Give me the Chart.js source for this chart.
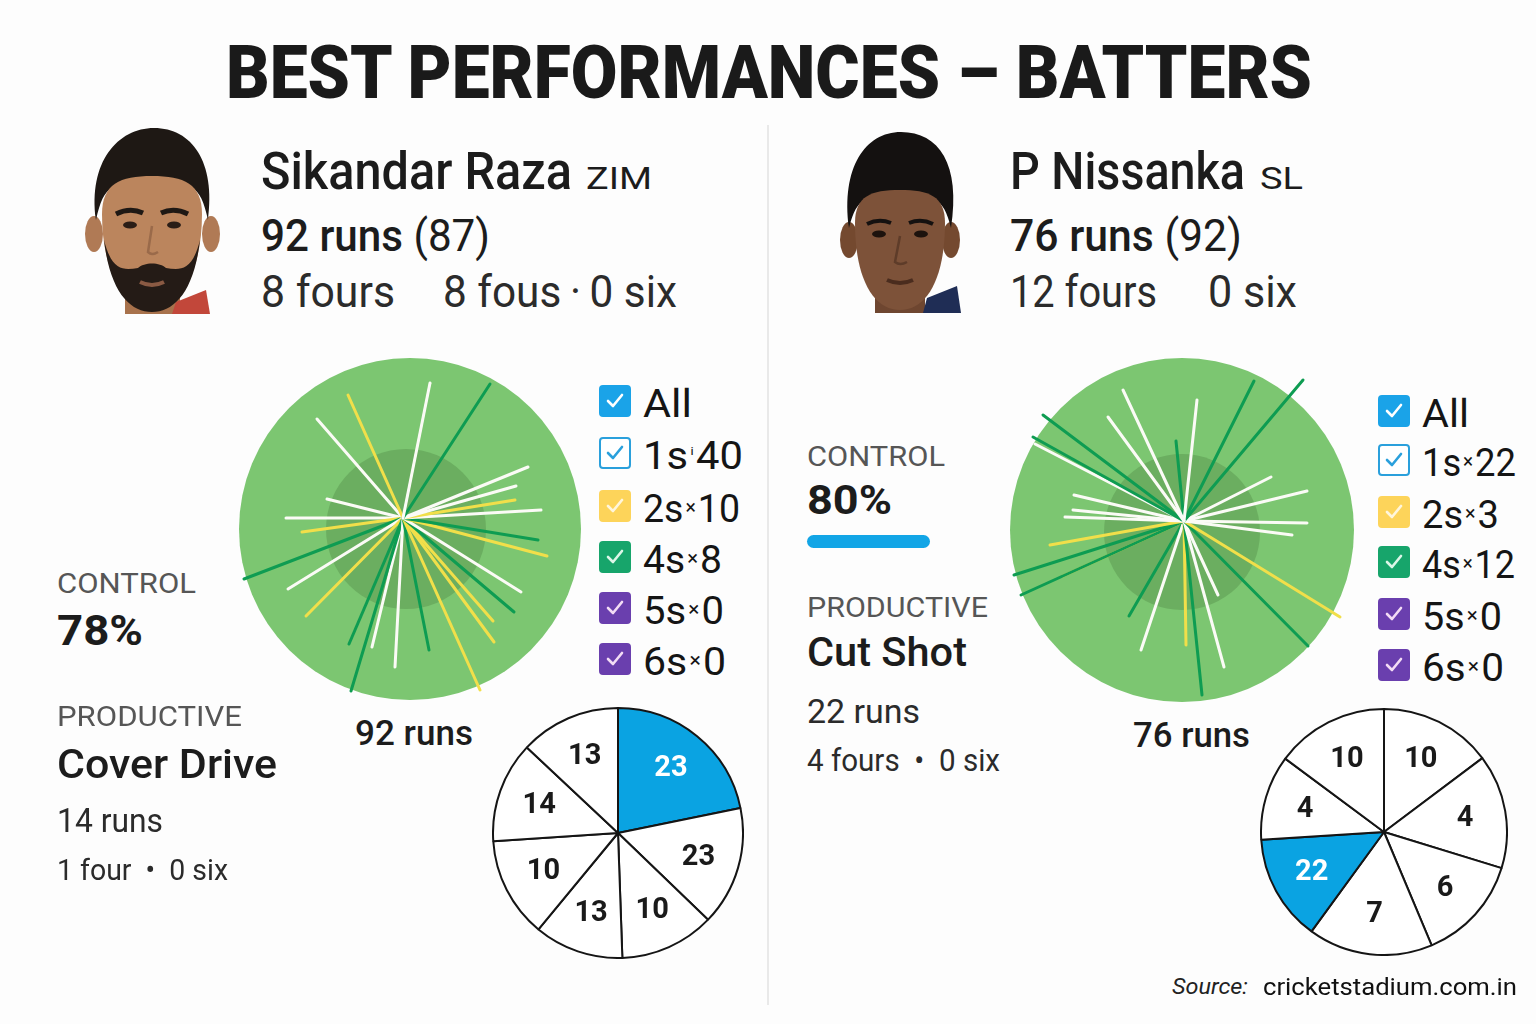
<!DOCTYPE html>
<html>
<head>
<meta charset="utf-8">
<script src="https://cdn.jsdelivr.net/npm/chart.js@4.4.1/dist/chart.umd.min.js"></script>
<style>
html, body { margin: 0; padding: 0; background: #fdfdfd; }
#page { position: relative; width: 1536px; height: 1024px; overflow: hidden; font-family: Roboto, 'Noto Sans', sans-serif; color: #1c1c1c; }
.t { position: absolute; line-height: 1; white-space: nowrap; transform-origin: 0 0; }
.box { position: absolute; width: 32px; height: 32px; border-radius: 4px; box-sizing: border-box; }
.x { font-size: 0.52em; position: relative; top: -0.42em; padding: 0 2px; }
canvas { position: absolute; }
</style>
</head>
<body>
<div id="page">
  <div style="position:absolute;left:767px;top:125px;width:2px;height:880px;background:#e9e9e9"></div>

  <!-- simple portrait placeholders -->
  <svg style="position:absolute;left:80px;top:122px" width="145" height="192" viewBox="0 0 145 192">
    <rect x="45" y="140" width="55" height="52" fill="#a8724c"/>
    <path d="M96 180 L126 168 L130 192 L92 192Z" fill="#c2473a"/>
    <ellipse cx="14" cy="112" rx="9" ry="18" fill="#b07a55"/>
    <ellipse cx="131" cy="112" rx="9" ry="18" fill="#b07a55"/>
    <path d="M16 98 C8 40 38 6 74 6 C112 6 136 40 128 98 C124 80 120 70 112 66 C90 58 54 58 32 66 C24 70 20 80 16 98 Z" fill="#1e1814"/>
    <path d="M22 92 C22 62 40 54 72 54 C104 54 122 62 122 92 C122 150 100 186 72 186 C44 186 22 150 22 92Z" fill="#bb855d"/>
    <path d="M24 118 C30 170 50 190 72 190 C94 190 114 170 120 118 C112 150 100 148 86 146 C80 140 64 140 58 146 C44 148 32 150 24 118Z" fill="#241b16"/>
    <path d="M60 160 Q72 166 84 160" stroke="#8a5a43" stroke-width="4" fill="none"/>
    <path d="M36 92 Q50 85 63 91" stroke="#1e1814" stroke-width="5" fill="none"/>
    <path d="M81 91 Q94 85 108 92" stroke="#1e1814" stroke-width="5" fill="none"/>
    <ellipse cx="50" cy="103" rx="7" ry="3.5" fill="#2a1d16"/>
    <ellipse cx="94" cy="103" rx="7" ry="3.5" fill="#2a1d16"/>
    <path d="M72 104 L68 130 Q72 134 78 130" stroke="#9a6a4a" stroke-width="2.5" fill="none"/>
  </svg>
  <svg style="position:absolute;left:835px;top:128px" width="130" height="185" viewBox="0 0 130 185">
    <rect x="40" y="140" width="50" height="45" fill="#6e4630"/>
    <path d="M92 170 L122 158 L126 185 L88 185Z" fill="#1f2d55"/>
    <ellipse cx="14" cy="112" rx="9" ry="18" fill="#74492f"/>
    <ellipse cx="116" cy="112" rx="9" ry="18" fill="#74492f"/>
    <path d="M14 100 C6 40 30 4 66 4 C104 4 126 36 116 100 C112 84 108 76 100 72 C80 64 50 64 30 72 C22 76 18 84 14 100 Z" fill="#141110"/>
    <path d="M20 95 C20 68 36 62 65 62 C94 62 110 68 110 95 C110 150 92 182 65 182 C38 182 20 150 20 95Z" fill="#7d5239"/>
    <path d="M32 96 Q44 90 56 95" stroke="#141110" stroke-width="4" fill="none"/>
    <path d="M74 95 Q86 90 98 96" stroke="#141110" stroke-width="4" fill="none"/>
    <ellipse cx="44" cy="106" rx="7" ry="3.5" fill="#1c120d"/>
    <ellipse cx="86" cy="106" rx="7" ry="3.5" fill="#1c120d"/>
    <path d="M65 108 L60 134 Q65 138 72 134" stroke="#5e3c29" stroke-width="2.5" fill="none"/>
    <path d="M52 152 Q65 158 78 152" stroke="#4a2c1e" stroke-width="4" fill="none"/>
  </svg>

  <canvas id="razaWheel" width="380" height="380" style="left:213px;top:328px"></canvas>
  <canvas id="nissankaWheel" width="380" height="380" style="left:994px;top:331px"></canvas>
  <canvas id="razaZones" width="252" height="252" style="left:492px;top:707px"></canvas>
  <canvas id="nissankaZones" width="248" height="248" style="left:1260px;top:708px"></canvas>
</div>
<script>
// ---- data read off the graphic ----
// wagon wheel: where each scoring shot landed, relative to the batter (y up)
const razaShotX = [27, 87, -55, -86, 125, 113, 112, 138, 135, 144, 118, 111, 90, 91, 77, 26, -8, -52, -31, -54, -97, -115, -159, -101, -117, -76];
const razaShotY = [135, 134, 123, 99, 51, 32, 18, 8, -22, -38, -74, -94, -103, -124, -172, -132, -149, -173, -129, -126, -98, -71, -61, -14, 0, 19];
const razaShotKind = ['1s', '4s', '2s', '1s', '1s', '1s', '2s', '1s', '4s', '2s', '1s', '4s', '2s', '2s', '2s', '4s', '1s', '4s', '1s', '4s', '2s', '1s', '4s', '2s', '1s', '1s'];

const nissankaShotX = [-61, -76, 13, -8, 70, 119, -141, -151, -149, -110, -111, -119, -134, -170, -163, -121, 87, 123, 123, 108, 156, 124, 34, 40, 18, 2, -43, -55];
const nissankaShotY = [131, 104, 121, 80, 140, 141, 106, 84, 77, 26, 11, 4, -24, -54, -74, -55, 44, 30, -2, -14, -96, -125, -74, -146, -174, -124, -129, -95];
const nissankaShotKind = ['1s', '1s', '1s', '4s', '4s', '4s', '4s', '4s', '1s', '1s', '1s', '1s', '2s', '4s', '4s', '2s', '1s', '1s', '1s', '1s', '2s', '4s', '1s', '1s', '4s', '2s', '1s', '4s'];

// legend rows
const legendLabels = ['All', '1s', '2s', '4s', '5s', '6s'];
const razaCounts = [null, 40, 10, 8, 0, 0];
const nissankaCounts = [null, 22, 3, 12, 0, 0];

// scoring zones: runs per zone and the width of each zone (degrees, clockwise from straight)
const razaZoneRuns = [23, 23, 10, 13, 10, 14, 13];
const razaZoneSpan = [78.5, 55.4, 44.1, 41.5, 46.7, 47, 46.8];
const razaTopZone = 0;
const nissankaZoneRuns = [10, 4, 6, 7, 22, 4, 10];
const nissankaZoneSpan = [53.1, 54, 50.1, 58.9, 50.3, 40.2, 53.4];
const nissankaTopZone = 4;

const shotColors = { '1s': '#fbfbf6', '2s': '#f1df4a', '4s': '#0e9c52' };

// ---- text helpers ----
const page = document.getElementById('page');

function txt(x, baseline, size, weight, color, html, width, extra) {
    const el = document.createElement('div');
    el.className = 't';
    el.style.left = x + 'px';
    el.style.top = (baseline - 0.842 * size) + 'px';
    el.style.fontSize = size + 'px';
    el.style.fontWeight = weight;
    el.style.color = color;
    if (extra) Object.assign(el.style, extra);
    el.innerHTML = html;
    page.appendChild(el);
    if (width) {
        const w = el.getBoundingClientRect().width;
        if (w > 0) el.style.transform = 'scaleX(' + (width / w) + ')';
    }
    return el;
}

const INK = '#1c1c1c';
const SOFT = '#2b2b2b';
const LABEL = '#565656';

txt(226, 98, 74, 900, '#1a1a1a', 'BEST PERFORMANCES – BATTERS', 1086);

// left player
txt(261, 189, 51, 500, INK, 'Sikandar Raza', 311);
txt(586, 189, 32, 400, INK, 'ZIM', 66);
txt(261, 251, 44, 500, INK, '92 runs <span style="font-weight:400">(87)</span>', 229);
txt(261, 307, 44, 400, SOFT, '8 fours', 134);
txt(443, 307, 44, 400, SOFT, '8 fous&thinsp;·&thinsp;0 six', 234);
txt(57, 594, 28, 400, LABEL, 'CONTROL', 139);
txt(57, 645, 42, 700, INK, '78%', 86);
txt(57, 727, 28, 400, LABEL, 'PRODUCTIVE', 185);
txt(57, 779, 41, 500, INK, 'Cover Drive', 220);
txt(57, 832, 33, 400, SOFT, '14 runs', 106);
txt(57, 880, 30, 400, SOFT, '1 four &nbsp;•&nbsp; 0 six', 171);
txt(355, 745, 35, 500, INK, '92 runs', 118);

// right player
txt(1010, 189, 51, 500, INK, 'P Nissanka', 235);
txt(1260, 189, 32, 400, INK, 'SL', 43);
txt(1010, 251, 44, 500, INK, '76 runs <span style="font-weight:400">(92)</span>', 232);
txt(1010, 307, 44, 400, SOFT, '12 fours', 147);
txt(1208, 307, 44, 400, SOFT, '0 six', 89);
txt(807, 467, 28, 400, LABEL, 'CONTROL', 138);
txt(807, 515, 40, 700, INK, '80%', 85);
txt(807, 618, 28, 400, LABEL, 'PRODUCTIVE', 181);
txt(807, 667, 41, 500, INK, 'Cut Shot', 160);
txt(807, 723, 34, 400, SOFT, '22 runs', 113);
txt(807, 771, 31, 400, SOFT, '4 fours &nbsp;•&nbsp; 0 six', 193);
txt(1133, 747, 35, 500, INK, '76 runs', 117);

const bar = document.createElement('div');
Object.assign(bar.style, { position: 'absolute', left: '807px', top: '535px', width: '123px', height: '13px', borderRadius: '7px', background: '#12a5e6' });
page.appendChild(bar);

txt(1172, 995, 22, 400, '#222', 'Source:', 76, { fontStyle: 'italic' });
txt(1263, 995, 24, 400, '#111', 'cricketstadium.com.in', 254);

// ---- legend checkboxes ----
const boxStyles = [
    { fill: '#1aa3e8', border: '#1aa3e8', tick: '#ffffff' },
    { fill: '#ffffff', border: '#2aa0dc', tick: '#2aa0dc' },
    { fill: '#fdd45a', border: '#fdd45a', tick: '#fff6dc' },
    { fill: '#17a56b', border: '#17a56b', tick: '#dcf6e8' },
    { fill: '#6a3fae', border: '#6a3fae', tick: '#f3dcf5' },
    { fill: '#6a3fae', border: '#6a3fae', tick: '#f3dcf5' }
];

function makeLegend(x, tops, counts, seps, widths) {
    legendLabels.forEach((label, i) => {
        const s = boxStyles[i];
        const b = document.createElement('div');
        b.className = 'box';
        b.style.left = x + 'px';
        b.style.top = tops[i] + 'px';
        b.style.background = s.fill;
        b.style.border = '2px solid ' + s.border;
        b.innerHTML = '<svg width="28" height="28" style="position:absolute;left:0;top:0"><polyline points="7,14 12,19 21,8" fill="none" stroke="' +
            s.tick + '" stroke-width="2.6" stroke-linecap="round" stroke-linejoin="round"/></svg>';
        page.appendChild(b);
        const html = counts[i] === null ? label : label + '<span class="x">' + seps[i] + '</span>' + counts[i];
        txt(x + 44, tops[i] + 32, 38, 400, '#151515', html, widths[i]);
    });
}

makeLegend(599, [385, 437, 490, 541, 592, 643], razaCounts, ['', 'ⁱ', '×', '×', '×', '×'], [49, 100, 97, 79, 81, 83]);
makeLegend(1378, [395, 444, 496, 546, 598, 649], nissankaCounts, ['', '×', '×', '×', '×', '×'], [47, 94, 77, 93, 80, 82]);

// ---- wagon wheels ----
function fieldPlugin(field) {
    return {
        id: 'field',
        beforeDatasetsDraw(chart) {
            const { ctx, scales: { x, y } } = chart;
            const disc = (cx, cy, r, color) => {
                const px = x.getPixelForValue(cx);
                const py = y.getPixelForValue(cy);
                const pr = x.getPixelForValue(cx + r) - px;
                ctx.beginPath();
                ctx.arc(px, py, pr, 0, Math.PI * 2);
                ctx.fillStyle = color;
                ctx.fill();
            };
            ctx.save();
            disc(field.x, field.y, field.r, '#7cc671');
            disc(field.ix, field.iy, field.ir, '#6bae60');
            ctx.restore();
        }
    };
}

function makeWheel(id, shotX, shotY, shotKind, field) {
    const datasets = shotX.map((sx, i) => ({
        data: [{ x: 0, y: 0 }, { x: sx, y: shotY[i] }],
        showLine: true,
        borderColor: shotColors[shotKind[i]],
        borderWidth: 3,
        borderCapStyle: 'round',
        pointRadius: 0,
        pointHoverRadius: 0
    }));
    new Chart(document.getElementById(id), {
        type: 'scatter',
        data: { datasets: datasets },
        options: {
            responsive: false,
            animation: false,
            events: [],
            layout: { padding: 0 },
            plugins: { legend: { display: false }, tooltip: { enabled: false } },
            scales: {
                x: { type: 'linear', min: -190, max: 190, display: false },
                y: { type: 'linear', min: -190, max: 190, display: false }
            }
        },
        plugins: [fieldPlugin(field)]
    });
}

makeWheel('razaWheel', razaShotX, razaShotY, razaShotKind, { x: 7, y: -11, r: 171, ix: 3, iy: -11, ir: 80 });
makeWheel('nissankaWheel', nissankaShotX, nissankaShotY, nissankaShotKind, { x: -2, y: -9, r: 172, ix: -2, iy: -11, ir: 78 });

// ---- scoring zone pies ----
function zoneLabels(runs, top) {
    return {
        id: 'zoneLabels',
        afterDatasetsDraw(chart) {
            const { ctx } = chart;
            const meta = chart.getDatasetMeta(0);
            ctx.save();
            ctx.font = '700 29px Roboto, sans-serif';
            ctx.textAlign = 'center';
            ctx.textBaseline = 'middle';
            meta.data.forEach((arc, i) => {
                const p = arc.getProps(['x', 'y', 'startAngle', 'endAngle', 'outerRadius'], true);
                const mid = (p.startAngle + p.endAngle) / 2;
                const r = p.outerRadius * 0.67;
                ctx.fillStyle = i === top ? '#ffffff' : '#1a1a1a';
                ctx.fillText(String(runs[i]), p.x + Math.cos(mid) * r, p.y + Math.sin(mid) * r + 1);
            });
            ctx.restore();
        }
    };
}

function makeZones(id, spans, runs, top) {
    new Chart(document.getElementById(id), {
        type: 'pie',
        data: {
            labels: runs.map(String),
            datasets: [{
                data: spans,
                backgroundColor: runs.map((r, i) => i === top ? '#0aa3e2' : '#ffffff'),
                borderColor: '#151515',
                borderWidth: 2,
                hoverOffset: 0
            }]
        },
        options: {
            responsive: false,
            animation: false,
            events: [],
            layout: { padding: 0 },
            plugins: { legend: { display: false }, tooltip: { enabled: false } }
        },
        plugins: [zoneLabels(runs, top)]
    });
}

makeZones('razaZones', razaZoneSpan, razaZoneRuns, razaTopZone);
makeZones('nissankaZones', nissankaZoneSpan, nissankaZoneRuns, nissankaTopZone);
</script>
</body>
</html>
